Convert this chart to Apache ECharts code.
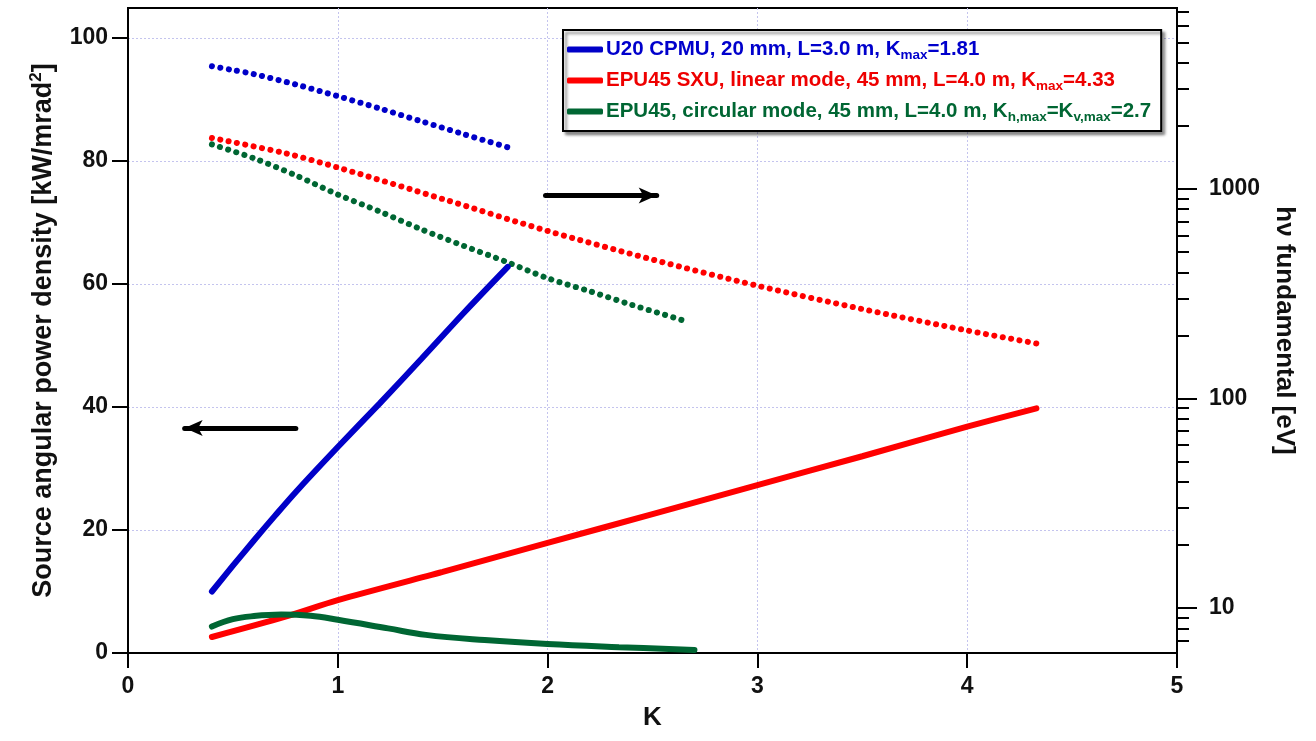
<!DOCTYPE html>
<html>
<head>
<meta charset="utf-8">
<script src="https://cdn.jsdelivr.net/npm/echarts@6/dist/echarts.min.js"></script>
<style>
html,body{margin:0;padding:0;background:#fff;}
#c{width:1316px;height:741px;}
</style>
</head>
<body>
<div id="c"></div>
<script>
// ---- data ----
const kTicks = [0, 1, 2, 3, 4, 5];
const leftTicks = [0, 20, 40, 60, 80, 100];
const rightMajorTicks = [10, 100, 1000];
const rightMinorTicks = [7, 8, 9, 20, 30, 40, 50, 60, 70, 80, 90, 200, 300, 400, 500, 600, 700, 800, 900, 2000, 3000, 4000, 5000, 6000, 7000];

const seriesNames = [
  'U20 CPMU, 20 mm, L=3.0 m, Kmax=1.81',
  'EPU45 SXU, linear mode, 45 mm, L=4.0 m, Kmax=4.33',
  'EPU45, circular mode, 45 mm, L=4.0 m, Kh,max=Kv,max=2.7'
];

// power density (left axis)
const kBlueP = [0.4, 0.5, 0.6, 0.7, 0.8, 1.0, 1.2, 1.4, 1.6, 1.81];
const pBlue  = [10, 14.2, 18.3, 22.3, 26.2, 33.5, 40.6, 47.9, 55.3, 62.8];
const kRedP  = [0.4, 0.75, 1.0, 1.5, 2.0, 2.5, 3.0, 3.5, 4.0, 4.33];
const pRed   = [2.6, 5.9, 8.6, 13.2, 17.9, 22.6, 27.3, 32.0, 36.8, 39.8];
const kGreenP = [0.4, 0.5, 0.6, 0.73, 0.87, 1.0, 1.24, 1.42, 1.7, 2.0, 2.34, 2.7];
const pGreen  = [4.3, 5.5, 6.0, 6.25, 6.05, 5.4, 4.0, 2.95, 2.1, 1.45, 0.95, 0.5];

// photon energy of fundamental (right axis, eV)
const kBlueE = [0.4, 0.5, 0.6, 0.8, 1.0, 1.2, 1.4, 1.6, 1.81];
const eBlue  = [3850, 3690, 3530, 3150, 2770, 2420, 2100, 1825, 1580];
const kRedE  = [0.4, 0.75, 1.0, 1.5, 2.0, 2.5, 3.0, 3.5, 4.0, 4.33];
const eRed   = [1750, 1480, 1265, 895, 630, 460, 345, 267, 211, 183];
const kGreenE = [0.4, 0.6, 0.8, 1.0, 1.2, 1.4, 1.6, 1.8, 2.0, 2.2, 2.4, 2.67];
const eGreen  = [1630, 1400, 1160, 940, 780, 640, 535, 450, 375, 325, 280, 232];

// annotation arrows (data coordinates: K, left-axis value)
const arrowLeft  = [[0.80, 36.6], [0.27, 36.6]];
const arrowRight = [[1.99, 74.4], [2.52, 74.4]];

const colors = ['#0000c8', '#ff0000', '#006633'];
const textColors = ['#0000cc', '#ee0000', '#006633'];

function pairs(xs, ys) { return xs.map((x, i) => [x, ys[i]]); }

const FONT = '"Liberation Sans", Arial, sans-serif';

const chart = echarts.init(document.getElementById('c'), null, {renderer: 'canvas'});

function legendFmt(name) {
  const i = seriesNames.indexOf(name);
  const t = 't' + i, s = 's' + i;
  if (i === 0) return `{${t}|U20 CPMU, 20 mm, L=3.0 m, K}{${s}|max}{${t}|=1.81}`;
  if (i === 1) return `{${t}|EPU45 SXU, linear mode, 45 mm, L=4.0 m, K}{${s}|max}{${t}|=4.33}`;
  return `{${t}|EPU45, circular mode, 45 mm, L=4.0 m, K}{${s}|h,max}{${t}|=K}{${s}|v,max}{${t}|=2.7}`;
}
const rich = {};
textColors.forEach((c, i) => {
  rich['t' + i] = {color: c, fontSize: 20.5, fontWeight: 'bold', fontFamily: FONT, lineHeight: 24};
  rich['s' + i] = {color: c, fontSize: 13.5, fontWeight: 'bold', fontFamily: FONT, lineHeight: 24, padding: [11, 0, 0, 0]};
});

const dotted = (color) => ({color: color, width: 6, type: [0.1, 8.4], cap: 'round'});

const option = {
  animation: false,
  backgroundColor: '#fff',
  grid: {left: 128, top: 8, width: 1049, height: 645, show: true, borderColor: '#000', borderWidth: 2, backgroundColor: 'transparent'},
  legend: {
    data: seriesNames,
    orient: 'vertical',
    left: 563, top: 30,
    padding: [7, 10, 7, 4],
    itemGap: 6,
    itemWidth: 36, itemHeight: 6,
    icon: 'roundRect',
    backgroundColor: '#fff',
    borderColor: '#000', borderWidth: 2,
    shadowColor: 'rgba(0,0,0,0.45)', shadowBlur: 3, shadowOffsetX: 3, shadowOffsetY: 3,
    formatter: legendFmt,
    textStyle: {rich: rich, padding: [0, 0, 0, -2]}
  },
  xAxis: {
    type: 'value', min: 0, max: 5, interval: 1,
    name: 'K', nameLocation: 'middle', nameGap: 52,
    nameTextStyle: {fontSize: 26, fontWeight: 'bold', color: '#111', fontFamily: FONT},
    axisLine: {show: true, onZero: false, lineStyle: {color: '#000', width: 2}},
    axisTick: {show: true, length: 15, lineStyle: {color: '#000', width: 2}},
    axisLabel: {fontSize: 23, fontWeight: 'bold', color: '#111', fontFamily: FONT, margin: 22},
    splitLine: {show: true, lineStyle: {color: '#c4c4ee', width: 1, type: [2, 2]}}
  },
  yAxis: [
    {
      type: 'value', min: 0, max: 104.9, position: 'left',
      name: '{a|Source angular power density [kW/mrad}{b|2}{a|]}',
      nameLocation: 'middle', nameGap: 66,
      nameTextStyle: {rich: {
        a: {fontSize: 27, fontWeight: 'bold', color: '#111', fontFamily: FONT, lineHeight: 32},
        b: {fontSize: 17, fontWeight: 'bold', color: '#111', fontFamily: FONT, lineHeight: 32, padding: [0, 0, 14, 0]}
      }},
      axisLine: {show: true, lineStyle: {color: '#000', width: 2}},
      axisTick: {show: true, length: 16, lineStyle: {color: '#000', width: 2}, customValues: leftTicks},
      axisLabel: {fontSize: 23, fontWeight: 'bold', color: '#111', fontFamily: FONT, margin: 20, customValues: leftTicks},
      splitLine: {show: true, lineStyle: {color: '#c4c4ee', width: 1, type: [2, 2]}}
    },
    {
      type: 'log', logBase: 10, min: 6.1, max: 7300, position: 'right',
      name: 'hν fundamental [eV]', nameLocation: 'middle', nameGap: 90, nameRotate: -90,
      nameTextStyle: {fontSize: 26, fontWeight: 'bold', color: '#111', fontFamily: FONT},
      axisLine: {show: true, lineStyle: {color: '#000', width: 2}},
      axisTick: {show: true, length: 20, lineStyle: {color: '#000', width: 2}, customValues: rightMajorTicks},
      axisLabel: {fontSize: 23, fontWeight: 'bold', color: '#111', fontFamily: FONT, margin: 32,
        customValues: rightMajorTicks, formatter: (v) => String(Math.round(v))},
      splitLine: {show: false}, minorTick: {show: false}
    },
    {
      type: 'log', logBase: 10, min: 6.1, max: 7300, position: 'right',
      axisLine: {show: false},
      axisTick: {show: true, length: 12, lineStyle: {color: '#000', width: 2}, customValues: rightMinorTicks},
      axisLabel: {show: false},
      splitLine: {show: false}
    }
  ],
  series: [
    {
      name: seriesNames[0], type: 'line', xAxisIndex: 0, yAxisIndex: 0,
      data: pairs(kBlueP, pBlue), smooth: 0.3, showSymbol: false, symbol: 'none',
      color: colors[0], lineStyle: {color: colors[0], width: 6, cap: 'round'}, z: 3,
      markLine: {
        silent: true, symbol: ['none', 'arrow'], symbolSize: [12, 18],
        label: {show: false},
        lineStyle: {color: '#000', width: 5, type: 'solid', cap: 'round'},
        emphasis: {disabled: true},
        data: [
          [{coord: arrowLeft[0]}, {coord: arrowLeft[1]}],
          [{coord: arrowRight[0]}, {coord: arrowRight[1]}]
        ]
      }
    },
    {
      name: seriesNames[1], type: 'line', xAxisIndex: 0, yAxisIndex: 0,
      data: pairs(kRedP, pRed), smooth: 0.3, showSymbol: false, symbol: 'none',
      color: colors[1], lineStyle: {color: colors[1], width: 6, cap: 'round'}, z: 3
    },
    {
      name: seriesNames[2], type: 'line', xAxisIndex: 0, yAxisIndex: 0,
      data: pairs(kGreenP, pGreen), smooth: 0.4, showSymbol: false, symbol: 'none',
      color: colors[2], lineStyle: {color: colors[2], width: 6, cap: 'round'}, z: 3
    },
    {
      name: 'U20 hv', type: 'line', xAxisIndex: 0, yAxisIndex: 1,
      data: pairs(kBlueE, eBlue), smooth: 0.3, showSymbol: false, symbol: 'none',
      color: colors[0], lineStyle: dotted(colors[0]), z: 2
    },
    {
      name: 'EPU45 linear hv', type: 'line', xAxisIndex: 0, yAxisIndex: 1,
      data: pairs(kRedE, eRed), smooth: 0.3, showSymbol: false, symbol: 'none',
      color: colors[1], lineStyle: dotted(colors[1]), z: 2
    },
    {
      name: 'EPU45 circular hv', type: 'line', xAxisIndex: 0, yAxisIndex: 1,
      data: pairs(kGreenE, eGreen), smooth: 0.3, showSymbol: false, symbol: 'none',
      color: colors[2], lineStyle: dotted(colors[2]), z: 2
    }
  ]
};
chart.setOption(option);
</script>
</body>
</html>
